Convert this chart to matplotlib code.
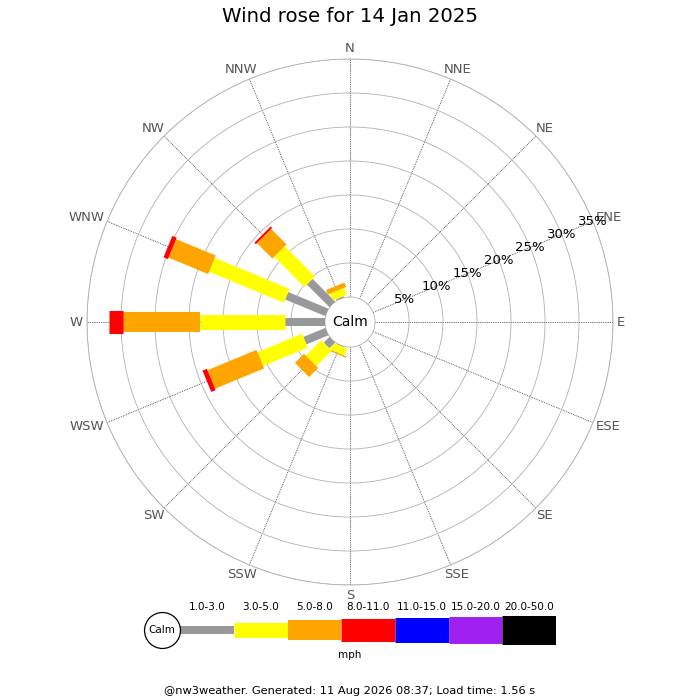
import numpy as np
import matplotlib
matplotlib.use("Agg")
import matplotlib.pyplot as plt

# compass points, clockwise from north
directions = ["N", "NNE", "NE", "ENE", "E", "ESE", "SE", "SSE",
              "S", "SSW", "SW", "WSW", "W", "WNW", "NW", "NNW"]

# percentage of time per direction for each speed band (mph)
speed_bands = ["1.0-3.0", "3.0-5.0", "5.0-8.0", "8.0-11.0",
               "11.0-15.0", "15.0-20.0", "20.0-50.0"]
band_colors = ["#999999", "#ffff00", "#ffa500", "#ff0000",
               "#0000ff", "#a020f0", "#000000"]
band_widths = [5.8, 10.8, 14.4, 16.6, 18.0, 19.4, 20.9]  # points

pct_1_3 = [0, 0, 0, 0, 0, 0, 0, 0, 0, 0.1, 1.2, 3.5, 5.9, 6.4, 4.7, 0.2]
pct_3_5 = [0, 0, 0, 0, 0, 0, 0, 0, 0, 1.1, 3.2, 7.1, 12.5, 11.9, 6.3, 1.1]
pct_5_8 = [0, 0, 0, 0, 0, 0, 0, 0, 0, 0.2, 1.9, 7.8, 11.3, 6.3, 3.2, 0.7]
pct_8_11 = [0, 0, 0, 0, 0, 0, 0, 0, 0, 0, 0, 0.7, 2.1, 0.7, 0.3, 0]
pct_11_15 = [0] * 16
pct_15_20 = [0] * 16
pct_20_50 = [0] * 16
bands = [pct_1_3, pct_3_5, pct_5_8, pct_8_11, pct_11_15, pct_15_20, pct_20_50]

ring_values = [5, 10, 15, 20, 25, 30, 35]
title = "Wind rose for 14 Jan 2025"
footer = "@nw3weather. Generated: 11 Aug 2026 08:37; Load time: 1.56 s"

fig = plt.figure(figsize=(7, 7), dpi=100)

# ---- rose ----
ax = fig.add_axes([87 / 700, 115 / 700, 526 / 700, 526 / 700], projection="polar")
ax.set_theta_zero_location("N")
ax.set_theta_direction(-1)
ax.set_ylim(0, 35)
ax.set_rorigin(-3.68)

angles = np.radians(np.arange(16) * 22.5)
ax.set_xticks(angles)
ax.set_xticklabels([])
ax.set_yticks(ring_values)
ax.set_yticklabels([])
ax.xaxis.grid(True, color="#333333", linestyle=(0, (1, 1.2)), linewidth=0.6)
ax.yaxis.grid(True, color="#b0b0b0", linestyle="-", linewidth=0.6)
for side in ("polar", "inner"):
    ax.spines[side].set_color("#b0b0b0")
    ax.spines[side].set_linewidth(0.6)

dir_labels = []
for i, theta in enumerate(angles):
    base = 0.0
    for band, color, lw in zip(bands, band_colors, band_widths):
        val = band[i]
        if val > 0:
            ax.plot([theta, theta], [base, base + val], color=color, lw=lw,
                    solid_capstyle="butt", zorder=3)
        base += val
    t = ax.annotate(directions[i], xy=(theta, 35.6), xytext=(0, 0),
                    textcoords="offset pixels", ha="center", va="center",
                    fontsize=9.5, color="#555555", annotation_clip=False)
    dir_labels.append((t, theta))

for rv in ring_values:
    ax.text(np.radians(67.5), rv, f"{rv}%", ha="center", va="center",
            fontsize=9.5, color="black", zorder=4)

fig.text(0.5, 1 - 322 / 700, "Calm", ha="center", va="center", fontsize=10)
fig.text(0.5, 1 - 17 / 700, title, ha="center", va="center", fontsize=14.2)

# ---- legend ----
lax = fig.add_axes([140 / 700, 35 / 700, 416 / 700, 70 / 700])
lax.set_xlim(-0.75, 7.0)
lax.set_ylim(0, 1)
lax.axis("off")
for j, (label, color, lw) in enumerate(zip(speed_bands, band_colors, band_widths)):
    lax.plot([j, j + 1], [0.5, 0.5], color=color, lw=lw, solid_capstyle="butt")
    lax.text(j + 0.5, 0.83, label, ha="center", va="center", fontsize=7.5)
lax.scatter([-0.335], [0.5], s=670, facecolor="white", edgecolor="black",
            linewidth=0.9, zorder=3)
lax.text(-0.335, 0.5, "Calm", ha="center", va="center", fontsize=7.5, zorder=4)
lax.text(3.15, 0.14, "mph", ha="center", va="center", fontsize=7.5)

fig.text(0.5, 1 - 691 / 700, footer, ha="center", va="center", fontsize=8.2)

# push direction labels outward so their inner edge sits on the ring
fig.canvas.draw()
renderer = fig.canvas.get_renderer()
for t, theta in dir_labels:
    bb = t.get_window_extent(renderer)
    t.xyann = (bb.width / 2 * np.sin(theta), bb.height / 2 * np.cos(theta))

fig.savefig("out.png", dpi=100, facecolor="white")
